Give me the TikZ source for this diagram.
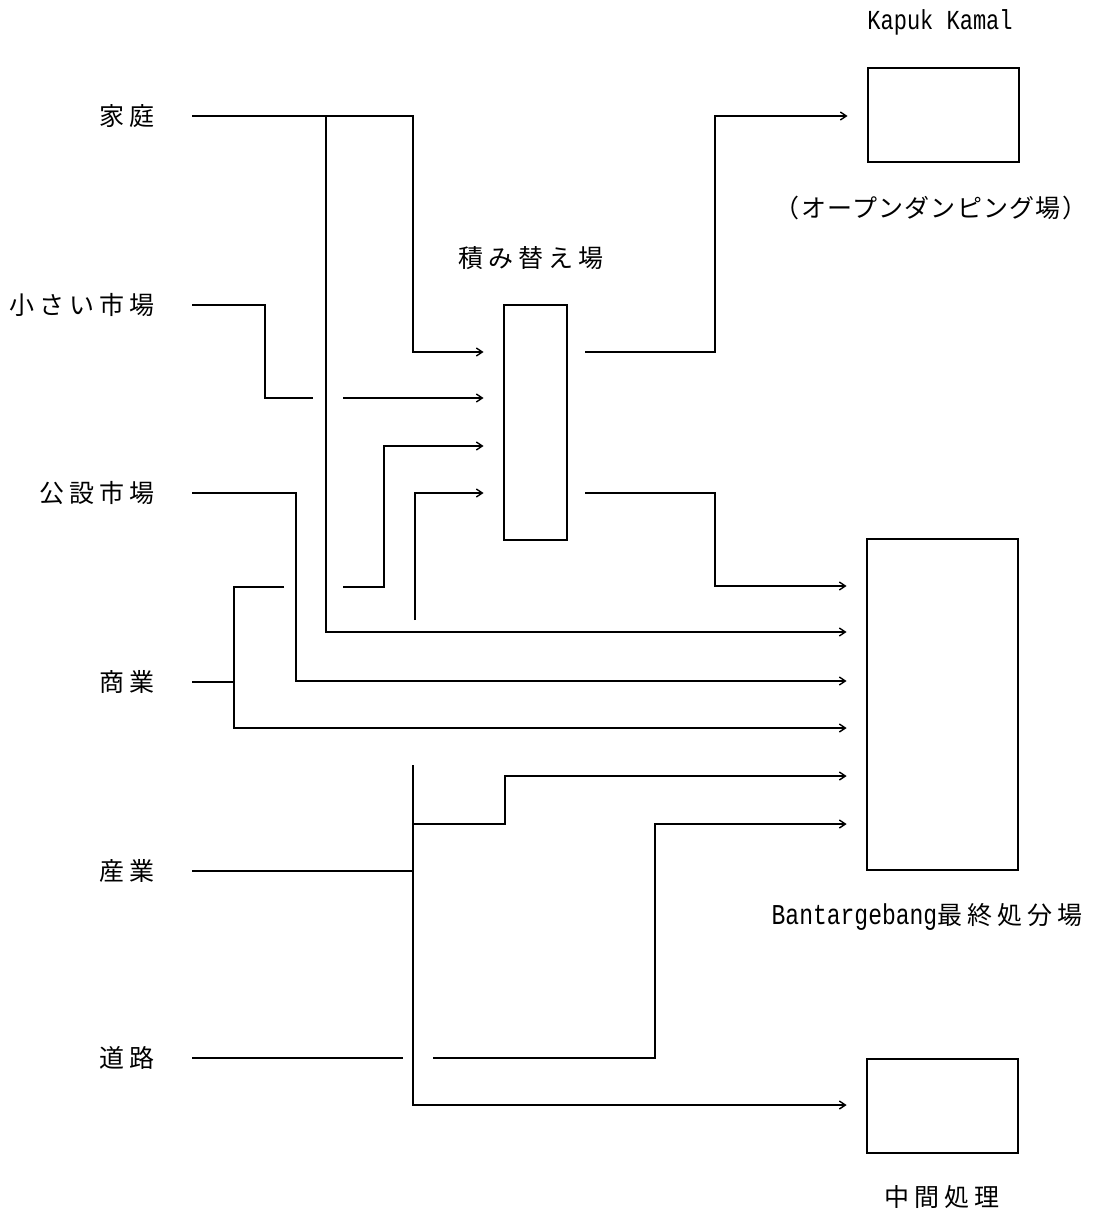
\documentclass[tikz,border=0pt]{standalone}
\usepackage{fontspec}
\usetikzlibrary{arrows.meta}
\newfontfamily\jp{Noto Sans CJK JP}[LetterSpace=20]
\newfontfamily\jpn{Noto Sans CJK JP}[LetterSpace=5]
\newfontfamily\mono{Liberation Mono}
\newcommand{\tallmono}[2]{\scalebox{1}[1.25]{\mono\fontsize{#1}{#1}\selectfont #2}}
\begin{document}
\begin{tikzpicture}[x=1pt,y=-1pt,line width=1.6pt,
  flow/.style={-{Straight Barb[length=6pt,width=8pt,line width=1.4pt]},shorten >=19.5pt},
  lbl/.style={font=\jp\fontsize{25}{27}\selectfont,inner sep=0pt},
  lbln/.style={font=\jpn\fontsize{25}{27}\selectfont,inner sep=0pt},
  boxn/.style={draw,line width=1.8pt,inner sep=0pt}]
\useasboundingbox (0,0) rectangle (1114,1220);
% sources
\node[lbl,anchor=east] (hh) at (155,116) {家庭};
\node[lbl,anchor=east] (sm) at (155,305) {小さい市場};
\node[lbl,anchor=east] (ks) at (155,493) {公設市場};
\node[lbl,anchor=east] (sg) at (155,682) {商業};
\node[lbl,anchor=east] (sy) at (155,871) {産業};
\node[lbl,anchor=east] (dr) at (155,1058) {道路};
% boxes
\node[boxn,minimum width=63pt,minimum height=235pt] (T) at (535.5,422.5) {};
\node[boxn,minimum width=151pt,minimum height=94pt] (K) at (943.5,115) {};
\node[boxn,minimum width=151pt,minimum height=331pt] (G) at (942.5,704.5) {};
\node[boxn,minimum width=151pt,minimum height=94pt] (M) at (942.5,1106) {};
% box labels
\node[lbl] (Tl) at (531,258) {積み替え場};
\node[inner sep=0pt] (Kl) at (940,22) {\tallmono{22}{Kapuk Kamal}};
\node[lbln] (Kl2) at (931,208) {（オープンダンピング場）};
\node[inner sep=0pt] (Gl) at (927,917) {\tallmono{23}{Bantargebang}{\jp\fontsize{25}{27}\selectfont 最終処分場}};
\node[lbl] (Ml) at (942,1197) {中間処理};
% 家庭
\draw[flow] ([xshift=37pt]hh.east) -- (413,116) -- (413,352) -- (T.west |- 0,352);
\draw[flow] (326,116) -- (326,632) -- (G.west |- 0,632);
% 小さい市場
\draw ([xshift=37pt]sm.east) -- (265,305) -- (265,398) -- (313,398);
\draw[flow] (343,398) -- (T.west |- 0,398);
% 公設市場
\draw[flow] ([xshift=37pt]ks.east) -- (296,493) -- (296,681) -- (G.west |- 0,681);
% 商業
\draw ([xshift=37pt]sg.east) -- (234,682);
\draw[flow] (284,587) -- (234,587) -- (234,728) -- (G.west |- 0,728);
\draw[flow] (343,587) -- (384,587) -- (384,446) -- (T.west |- 0,446);
% 産業
\draw ([xshift=37pt]sy.east) -- (413,871);
\draw[flow] (413,765) -- (413,1105) -- (M.west |- 0,1105);
\draw[flow] (413,824) -- (505,824) -- (505,776) -- (G.west |- 0,776);
\draw[flow] (415,620) -- (415,493) -- (T.west |- 0,493);
% 道路
\draw ([xshift=37pt]dr.east) -- (403,1058);
\draw[flow] (433,1058) -- (655,1058) -- (655,824) -- (G.west |- 0,824);
% 積み替え場 outputs
\draw[flow] (585,352) -- (715,352) -- (715,116) -- (K.west |- 0,116);
\draw[flow] (585,493) -- (715,493) -- (715,586) -- (G.west |- 0,586);
\end{tikzpicture}
\end{document}
